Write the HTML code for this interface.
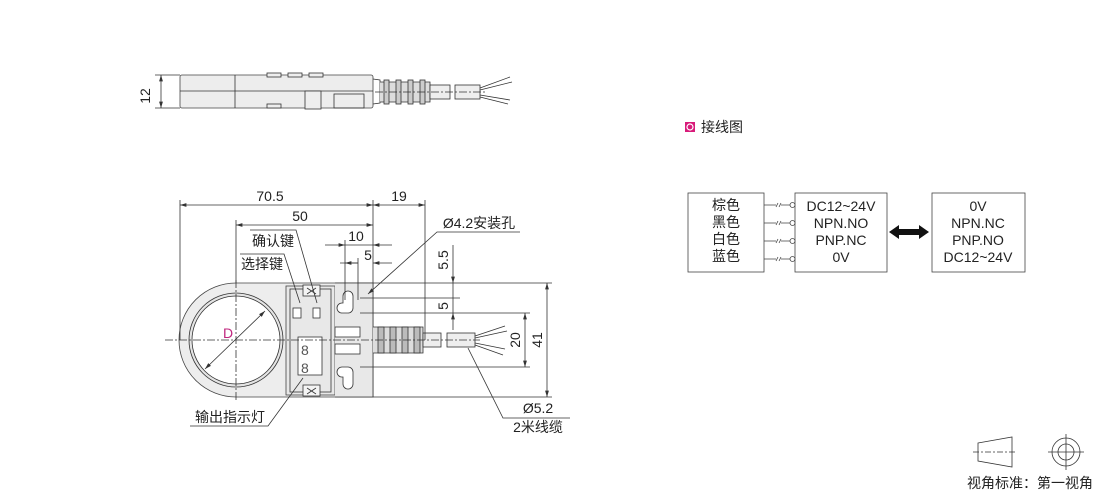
<!DOCTYPE html>
<html><head><meta charset="utf-8"><style>
html,body{margin:0;padding:0;background:#fff;}
svg{display:block;}
text{font-family:"Liberation Sans","Noto Sans CJK SC",sans-serif;fill:#222;}
</style></head><body>
<svg width="1110" height="495" viewBox="0 0 1110 495" xmlns="http://www.w3.org/2000/svg">
<defs>
<marker id="a" viewBox="0 0 10 6" refX="10" refY="3" markerWidth="8" markerHeight="5" orient="auto-start-reverse"><path d="M0,0L10,3L0,6z" fill="#333"/></marker>
</defs>
<g stroke="#333" stroke-width="0.8" fill="none">
<!-- TOP VIEW -->
<rect x="180" y="75" width="193" height="33" rx="2" fill="#ededed" stroke="#444"/>
<line x1="235" y1="75" x2="235" y2="108"/>
<line x1="180" y1="91" x2="373" y2="91"/>
<rect x="267" y="73" width="14" height="4" fill="#eee"/><rect x="288" y="73" width="14" height="4" fill="#eee"/><rect x="309" y="73" width="14" height="4" fill="#eee"/>
<rect x="267" y="104" width="14" height="4" fill="#eee"/>
<rect x="305" y="91" width="16" height="18" fill="#eee"/>
<rect x="334" y="94" width="30" height="14"/>
<path d="M373 79 L380 80 L380 103 L373 104"/>
<path d="M380 82 h50 v20 h-50" fill="#ddd"/>
<g fill="#ccc"><rect x="384" y="80" width="5" height="24"/><rect x="396" y="80" width="5" height="24"/><rect x="408" y="80" width="5" height="24"/><rect x="420" y="80" width="5" height="24"/></g>
<rect x="430" y="85" width="20" height="14" fill="#eee"/>
<rect x="455" y="85" width="25" height="14" fill="#eee"/>
<path d="M480 88 L510 77 M480 90 L512 82 M480 95 L510 100 M480 97 L508 104"/>
<line x1="375" y1="92" x2="485" y2="92" stroke-dasharray="8,2,2,2"/>
<line x1="155" y1="75" x2="180" y2="75"/><line x1="155" y1="108" x2="180" y2="108"/>
<line x1="161" y1="75" x2="161" y2="108" marker-start="url(#a)" marker-end="url(#a)"/>

<!-- FRONT VIEW -->
<path d="M236 283 H373 V397 H236 A57 57 0 0 1 236 283 Z" fill="#ededed" stroke="#444"/>
<circle cx="236" cy="340" r="47" fill="#e4e4e4"/>
<circle cx="236" cy="340" r="44" fill="#fff"/>
<rect x="286" y="286" width="49" height="109" fill="#e8e8e8" stroke="#444"/>
<rect x="290" y="289" width="41" height="103"/>
<rect x="303" y="285" width="17" height="11" fill="#f4f4f4"/><path d="M307 288l9 6m0-6l-9 6"/>
<rect x="303" y="385" width="17" height="11" fill="#f4f4f4"/><path d="M307 388l9 6m0-6l-9 6"/>
<rect x="293" y="308" width="8" height="10" fill="#fff"/><rect x="313" y="308" width="7" height="10" fill="#fff"/>
<rect x="298" y="337" width="24" height="38" fill="#fff"/>
<text x="301" y="355" font-size="14" stroke="none" style="fill:#555">8</text><text x="301" y="373" font-size="14" stroke="none" style="fill:#555">8</text>
<path d="M335 283 H373 V397 H335" fill="#e8e8e8"/>
<path d="M343 296 a5 5 0 0 1 10 0 v12 a5 5 0 0 1 -5 5 h-6 a5 5 0 0 1 0 -10 h1 z" fill="#fff"/>
<path d="M343 384 a5 5 0 0 0 10 0 v-12 a5 5 0 0 0 -5 -5 h-6 a5 5 0 0 0 0 10 h1 z" fill="#fff"/>
<rect x="335" y="327" width="25" height="10" fill="#fff"/><rect x="335" y="344" width="25" height="10" fill="#fff"/>
<path d="M373 327 h50 v26 h-50" fill="#ddd"/>
<g fill="#bbb"><rect x="378" y="327" width="6" height="26"/><rect x="390" y="327" width="6" height="26"/><rect x="402" y="327" width="6" height="26"/><rect x="414" y="327" width="6" height="26"/></g>
<rect x="423" y="333" width="18" height="14" fill="#eee"/>
<rect x="447" y="333" width="28" height="14" fill="#eee"/>
<path d="M475 336 L505 326 M475 338 L507 331 M475 343 L505 349 M475 345 L503 355"/>
<line x1="165" y1="340" x2="480" y2="340" stroke-dasharray="8,2,2,2"/>
<line x1="236" y1="280" x2="236" y2="400" stroke-dasharray="8,2,2,2"/>
<line x1="205" y1="369" x2="265" y2="311" marker-start="url(#a)" marker-end="url(#a)"/>
<line x1="180" y1="200" x2="180" y2="340"/><line x1="373" y1="200" x2="373" y2="283"/><line x1="425" y1="200" x2="425" y2="340"/>
<line x1="236" y1="220" x2="236" y2="283"/>
<line x1="345" y1="240" x2="345" y2="300"/><line x1="358" y1="258" x2="358" y2="300"/>
<line x1="180" y1="205" x2="373" y2="205" marker-start="url(#a)" marker-end="url(#a)"/>
<line x1="373" y1="205" x2="425" y2="205" marker-start="url(#a)" marker-end="url(#a)"/>
<line x1="236" y1="225" x2="373" y2="225" marker-start="url(#a)" marker-end="url(#a)"/>
<line x1="325" y1="245" x2="345" y2="245" marker-end="url(#a)"/><line x1="392" y1="245" x2="373" y2="245" marker-end="url(#a)"/><line x1="345" y1="245" x2="373" y2="245"/>
<line x1="340" y1="263" x2="358" y2="263"/><line x1="392" y1="263" x2="373" y2="263" marker-end="url(#a)"/><line x1="345" y1="263" x2="358" y2="263" marker-start="url(#a)"/>
<line x1="373" y1="283" x2="552" y2="283"/><line x1="360" y1="298" x2="460" y2="298"/><line x1="360" y1="313" x2="530" y2="313"/>
<line x1="360" y1="367" x2="530" y2="367"/><line x1="373" y1="397" x2="552" y2="397"/>
<line x1="453" y1="245" x2="453" y2="283" marker-end="url(#a)"/><line x1="453" y1="283" x2="453" y2="298"/>
<line x1="453" y1="330" x2="453" y2="313" marker-end="url(#a)"/><line x1="453" y1="298" x2="453" y2="313"/>
<line x1="525" y1="313" x2="525" y2="367" marker-start="url(#a)" marker-end="url(#a)"/>
<line x1="547" y1="283" x2="547" y2="397" marker-start="url(#a)" marker-end="url(#a)"/>
<path d="M520 232 H437 L368 294" marker-end="url(#a)"/>
<path d="M240 254 H284 L300 303" />
<path d="M250 230 H296 L317 303"/>
<path d="M190 426 H268 L303 378"/>
<path d="M570 418 H503 L468 348"/>
</g>
<g font-size="14" text-anchor="middle">
<text x="146" y="92" transform="rotate(-90 150 92)">12</text>
<text x="270" y="201">70.5</text><text x="399" y="201">19</text><text x="300" y="221">50</text>
<text x="356" y="241">10</text><text x="368" y="260">5</text>
<text x="448" y="260" transform="rotate(-90 448 260)">5.5</text>
<text x="448" y="306" transform="rotate(-90 448 306)">5</text>
<text x="520" y="340" transform="rotate(-90 520 340)">20</text>
<text x="542" y="340" transform="rotate(-90 542 340)">41</text>
<text x="228" y="338" style="fill:#c0267e">D</text>
<text x="479" y="228">Ø4.2安装孔</text>
<text x="273" y="246">确认键</text><text x="262" y="269">选择键</text>
<text x="230" y="422">输出指示灯</text>
<text x="538" y="413">Ø5.2</text><text x="538" y="432">2米线缆</text>
</g>
<rect x="685" y="122" width="10" height="10" fill="#d81b7a"/><circle cx="690" cy="127" r="3" fill="none" stroke="#fff" stroke-width="1.2"/>
<text x="701" y="132" font-size="14">接线图</text>
<g stroke="#444" stroke-width="0.8" fill="none">
<rect x="688" y="193" width="76" height="79"/>
<rect x="795" y="193" width="92" height="79"/>
<rect x="932" y="193" width="93" height="79"/>
<g id="w"><path d="M764 205 H776 M781 205 H790"/><path d="M776 207 l2 -4 M779 207 l2 -4"/><circle cx="792.5" cy="205" r="2.5" fill="#fff"/></g>
<use href="#w" y="18"/><use href="#w" y="36"/><use href="#w" y="54"/>
</g>
<path d="M889 232 l10 -7 v4 h20 v-4 l10 7 l-10 7 v-4 h-20 v4 z" fill="#111"/>
<g font-size="14" text-anchor="middle">
<text x="726" y="210">棕色</text><text x="726" y="227">黑色</text><text x="726" y="244">白色</text><text x="726" y="261">蓝色</text>
<text x="841" y="211">DC12~24V</text><text x="841" y="228">NPN.NO</text><text x="841" y="245">PNP.NC</text><text x="841" y="262">0V</text>
<text x="978" y="211">0V</text><text x="978" y="228">NPN.NC</text><text x="978" y="245">PNP.NO</text><text x="978" y="262">DC12~24V</text>
<text x="1030" y="488">视角标准：第一视角</text>
</g>
<g stroke="#333" stroke-width="0.8" fill="none">
<path d="M978 443 L1012 437 V467 L978 461 Z"/>
<line x1="973" y1="452" x2="1017" y2="452" stroke-dasharray="6,2,2,2"/>
<circle cx="1066" cy="452" r="14"/><circle cx="1066" cy="452" r="8"/>
<line x1="1048" y1="452" x2="1084" y2="452"/><line x1="1066" y1="434" x2="1066" y2="470"/>
</g>
</svg>
</body></html>
